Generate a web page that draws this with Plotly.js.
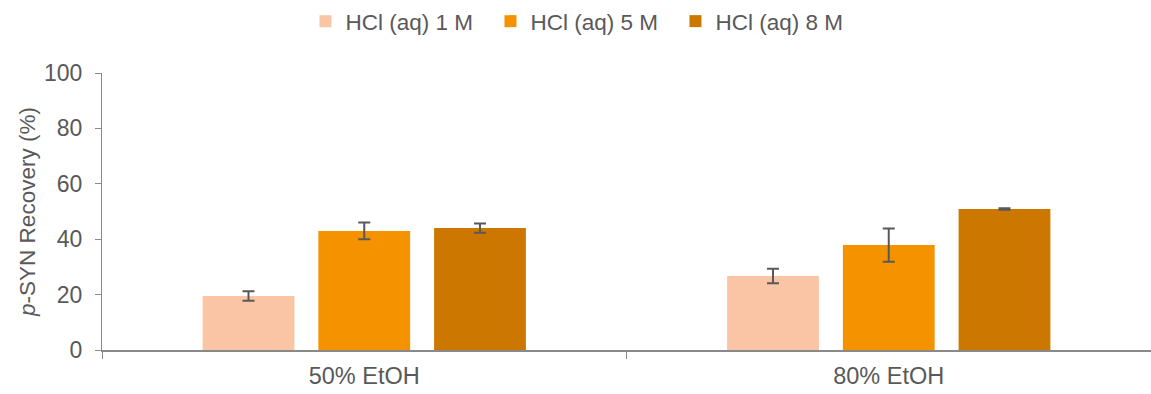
<!DOCTYPE html>
<html>
<head>
<meta charset="utf-8">
<script src="https://cdn.plot.ly/plotly-3.0.1.min.js"></script>
<style>
  html, body { margin: 0; padding: 0; background: #ffffff; }
  #chart { width: 1151px; height: 394px; }
</style>
</head>
<body>
<div id="chart"></div>
<script>
// Solvent conditions on the x axis
const categories = ['50% EtOH', '80% EtOH'];

// Recovery (%) for each HCl concentration, with standard deviations
const series_names = ['HCl (aq) 1 M', 'HCl (aq) 5 M', 'HCl (aq) 8 M'];
const recovery_1M = [19.5, 26.7];
const recovery_5M = [43.0, 37.9];
const recovery_8M = [44.0, 50.9];
const sd_1M = [1.7, 2.6];
const sd_5M = [3.0, 6.0];
const sd_8M = [1.7, 0.3];

const yTicks = [0, 20, 40, 60, 80, 100];

const colors = ['#F9C5A5', '#F49200', '#CB7700'];
const values = [recovery_1M, recovery_5M, recovery_8M];
const errors = [sd_1M, sd_5M, sd_8M];

const traces = series_names.map((name, i) => ({
  type: 'bar',
  name: name,
  x: categories,
  y: values[i],
  marker: { color: colors[i] },
  error_y: {
    type: 'data',
    array: errors[i],
    visible: true,
    color: '#595959',
    thickness: 2,
    width: 6
  },
  hoverinfo: 'x+y+name'
}));

const layout = {
  width: 1151,
  height: 394,
  margin: { l: 102, r: 0, t: 73, b: 44 },
  paper_bgcolor: '#ffffff',
  plot_bgcolor: '#ffffff',
  font: { family: 'Liberation Sans, Arial, sans-serif', size: 23, color: '#595959' },
  barmode: 'group',
  bargap: 0.338,
  bargroupgap: 0.207,
  showlegend: true,
  legend: {
    orientation: 'h',
    x: 0.4585,
    xanchor: 'center',
    y: 1,
    yref: 'container',
    yanchor: 'top',
    entrywidth: 140,
    entrywidthmode: 'pixels',
    font: { size: 22.5, color: '#595959' },
    traceorder: 'normal'
  },
  xaxis: {
    type: 'category',
    showline: true,
    linecolor: '#898989',
    linewidth: 2,
    ticks: 'outside',
    tickson: 'boundaries',
    ticklen: 7,
    tickcolor: '#898989',
    tickwidth: 1,
    showgrid: false,
    zeroline: false,
    tickfont: { size: 23.5, color: '#595959' },
    ticklabelstandoff: 4
  },
  yaxis: {
    range: [0, 100],
    tickvals: yTicks,
    ticktext: yTicks.map(String),
    showline: true,
    linecolor: '#898989',
    linewidth: 1,
    ticks: 'outside',
    ticklen: 6,
    tickcolor: '#898989',
    showgrid: false,
    zeroline: false,
    tickfont: { size: 23, color: '#595959' },
    ticklabelstandoff: 8,
    title: {
      text: '<i>p</i>-SYN Recovery (%)',
      font: { size: 22.5, color: '#595959' },
      standoff: 2
    }
  }
};

Plotly.newPlot('chart', traces, layout, { displayModeBar: false, responsive: false });
</script>
</body>
</html>
